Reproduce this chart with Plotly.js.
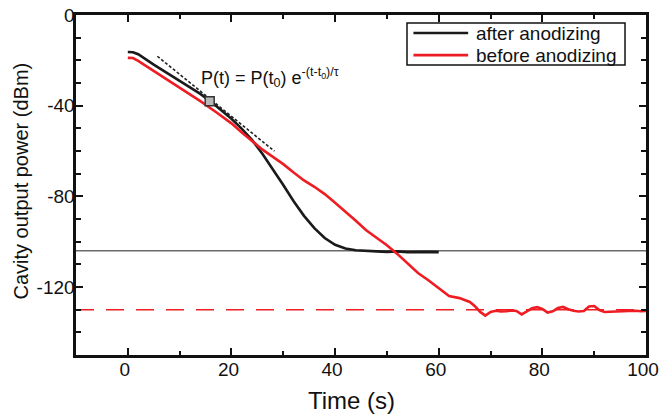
<!DOCTYPE html>
<html>
<head>
<meta charset="utf-8">
<script src="https://cdn.plot.ly/plotly-3.0.1.min.js"></script>
<style>html,body{margin:0;padding:0;background:#fff;}#chart{width:660px;height:416px;}</style>
</head>
<body>
<div id="chart"></div>
<script>
// after anodizing (black)
const timeAfter = [0, 0.5, 1, 2, 3, 5, 8, 11, 14, 16, 18, 20, 22, 24, 26, 28, 30, 32, 34, 36, 38, 40, 42, 44, 46, 48, 50, 52, 54, 56, 58, 60];
const powerAfter = [-16.3, -16.2, -16.4, -17.3, -18.9, -21.9, -26.2, -30.4, -34.8, -38.2, -41.8, -45.8, -50.2, -55.2, -61.3, -68, -75, -82.2, -88.6, -94, -98.4, -101.4, -103, -103.8, -104.2, -104.3, -104.5, -104.3, -104.6, -104.4, -104.5, -104.6];
// before anodizing (red)
const timeBefore = [0, 1, 2, 5, 8, 11, 14, 17, 20, 22, 24, 26, 28, 30, 32, 34, 36, 38, 40, 42, 44, 46, 48, 50, 52, 54, 56, 58, 60, 62, 64, 66, 67, 68, 69, 70, 71, 72, 73, 74, 75, 76, 77, 78, 79, 80, 81, 82, 83, 84, 85, 86, 87, 88, 89, 90, 91, 92, 93, 94, 95, 96, 97, 98, 99, 100];
const powerBefore = [-18.9, -19, -20.2, -24.6, -29.1, -33.6, -38, -42.8, -47.8, -51.8, -55.6, -59.4, -62.6, -65.8, -69.5, -73, -75.8, -79, -82.8, -86.6, -90.8, -95, -98.2, -101.6, -105.4, -109.8, -113.8, -117, -120.6, -124, -124.9, -126.6, -128.5, -131, -132.6, -131, -130.5, -130.8, -130.7, -130.4, -130.6, -132.1, -130.8, -129.4, -128.9, -129.7, -131.3, -130.7, -129.3, -128.8, -129.8, -130.5, -130.8, -130.6, -128.6, -128.4, -130.2, -131, -130.9, -130.8, -130.7, -130.5, -130.4, -130.5, -130.7, -130.6];
// exponential-decay fit segment and reference point t0
const fitTime = [5.7, 28.3];
const fitPower = [-18.2, -60.1];
const refTime = [15.8];
const refPower = [-38.1];
// noise floors
const floorAfter = -104;
const floorBefore = -130;
// axes
const xRange = [-10, 100];
const yRange = [-150, 0];
const xTickVals = [0, 20, 40, 60, 80, 100];
const xTickText = ['0', '20', '40', '60', '80', '100'];
const yTickVals = [0, -40, -80, -120];
const yTickText = ['0', '-40', '-80', '-120'];
// texts
const seriesNames = ['after anodizing', 'before anodizing'];
const xTitle = 'Time (s)';
const yTitle = 'Cavity output power (dBm)';
const formulaText = 'P(t) = P(t<sub>0</sub>) e<sup>-(t-t</sup><sup><sub>0</sub></sup><sup>)/τ</sup>';

const BLACK = '#1a1a1a';
const RED = '#ee1d23';
const FONT = 'Liberation Sans, Arial, Helvetica, sans-serif';

const data = [
  {x: timeAfter, y: powerAfter, type: 'scatter', mode: 'lines', name: seriesNames[0],
   line: {color: BLACK, width: 2.6}},
  {x: timeBefore, y: powerBefore, type: 'scatter', mode: 'lines', name: seriesNames[1],
   line: {color: RED, width: 2.6}},
  {x: fitTime, y: fitPower, type: 'scatter', mode: 'lines',
   line: {color: '#222', width: 1.6, dash: '3px,2px'}},
  {x: refTime, y: refPower, type: 'scatter', mode: 'markers',
   marker: {symbol: 'square', size: 9, color: '#b8b8b8', line: {color: '#333', width: 1.5}}}
];

const axisCommon = {
  showgrid: false, zeroline: false, showline: true, linecolor: '#111', linewidth: 2.6,
  mirror: 'allticks', ticks: 'inside', ticklen: 7, tickwidth: 2, tickcolor: '#111',
  tickfont: {family: FONT, size: 19, color: '#111'}, ticklabeloverflow: 'allow',
  tickmode: 'array'
};

// manual legend geometry (paper coordinates)
const lgX0 = 0.5807, lgX1 = 0.9632, lgY0 = 0.853, lgY1 = 0.9765;
const lgRows = [0.947, 0.882];
const lgLineX = [0.592, 0.688];
const lgTextX = 0.699;
const seriesColors = [BLACK, RED];

const shapes = [
  {type: 'line', xref: 'x', yref: 'y', x0: xRange[0], x1: xRange[1], y0: floorAfter, y1: floorAfter,
   layer: 'below', line: {color: '#6a6a6a', width: 1.3}},
  {type: 'line', xref: 'x', yref: 'y', x0: xRange[0], x1: xRange[1], y0: floorBefore, y1: floorBefore,
   layer: 'below', line: {color: RED, width: 1.5, dash: '18px,12px'}},
  {type: 'rect', xref: 'paper', yref: 'paper', x0: lgX0, x1: lgX1, y0: lgY0, y1: lgY1,
   fillcolor: '#fff', line: {color: '#111', width: 1.5}}
];
const annotations = [
  {x: 13.7, y: -27.5, xref: 'x', yref: 'y', xanchor: 'left', yanchor: 'middle', showarrow: false,
   text: formulaText, font: {family: FONT, size: 18, color: '#111'}},
  {x: 0.4825, y: -0.135, xref: 'paper', yref: 'paper', xanchor: 'center', yanchor: 'middle', showarrow: false,
   text: xTitle, font: {family: FONT, size: 24, color: '#111'}},
  {x: -0.096, y: 0.511, xref: 'paper', yref: 'paper', xanchor: 'center', yanchor: 'middle', showarrow: false,
   textangle: -90, text: yTitle, font: {family: FONT, size: 20, color: '#111'}}
];
seriesNames.forEach((nm, i) => {
  shapes.push({type: 'line', xref: 'paper', yref: 'paper', x0: lgLineX[0], x1: lgLineX[1],
    y0: lgRows[i], y1: lgRows[i], line: {color: seriesColors[i], width: 2.6}});
  annotations.push({x: lgTextX, y: lgRows[i], xref: 'paper', yref: 'paper', xanchor: 'left', yanchor: 'middle',
    showarrow: false, text: nm, font: {family: FONT, size: 19, color: '#111'}});
});

const layout = {
  width: 660, height: 416,
  margin: {l: 76, r: 14, t: 15, b: 61, pad: 0},
  paper_bgcolor: '#fff', plot_bgcolor: '#fff',
  font: {family: FONT, color: '#111'},
  showlegend: false,
  xaxis: Object.assign({}, axisCommon, {
    range: xRange, tickvals: xTickVals, ticktext: xTickText, ticklabelstandoff: -4, ticklabelshift: -3,
    minor: {dtick: 10, tick0: 0, ticks: 'inside', ticklen: 4, tickwidth: 2, tickcolor: '#111'}
  }),
  yaxis: Object.assign({}, axisCommon, {
    range: yRange, tickvals: yTickVals, ticktext: yTickText, ticklabelstandoff: -5,
    minor: {dtick: 10, tick0: 0, ticks: 'inside', ticklen: 5, tickwidth: 2, tickcolor: '#111'}
  }),
  shapes: shapes,
  annotations: annotations
};

Plotly.newPlot('chart', data, layout, {displayModeBar: false, staticPlot: true});
</script>
</body>
</html>
